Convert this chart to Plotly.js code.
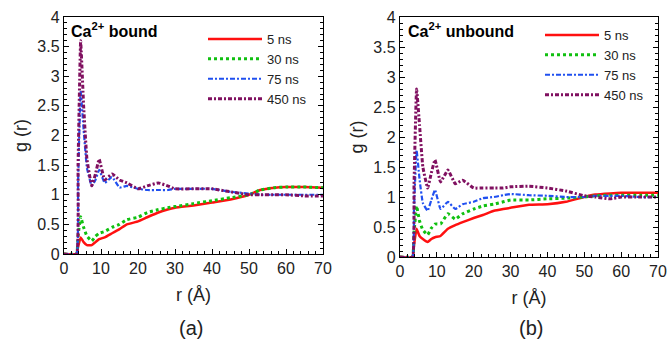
<!DOCTYPE html>
<html>
<head>
<meta charset="utf-8">
<script src="https://cdn.plot.ly/plotly-3.0.1.min.js"></script>
<style>html,body{margin:0;padding:0;background:#fff;}#chart{width:670px;height:342px;}</style>
</head>
<body>
<div id="chart"></div>
<script>
// shared radial distance grid (Å)
const r = [0, 3.4, 3.8, 4.5, 5.3, 6.2, 7.5, 8.5, 9.5, 11, 13, 15, 17, 20, 22.5, 25.5, 28, 30, 35, 40, 45, 50, 53, 57, 60, 65, 70];

// (a) Ca2+ bound
const boundG5   = [0,0,0.12,0.28,0.20,0.15,0.15,0.20,0.25,0.28,0.35,0.42,0.50,0.55,0.62,0.70,0.75,0.78,0.82,0.87,0.92,1.00,1.08,1.12,1.13,1.13,1.12];
const boundG30  = [0,0,0.30,0.63,0.45,0.30,0.22,0.30,0.35,0.38,0.45,0.50,0.58,0.62,0.70,0.75,0.78,0.80,0.85,0.90,0.95,1.00,1.08,1.12,1.13,1.13,1.12];
const boundG75  = [0,0,1.20,2.75,2.10,1.45,1.15,1.25,1.42,1.20,1.30,1.12,1.15,1.10,1.08,1.08,1.08,1.10,1.10,1.10,1.05,1.02,1.00,1.00,1.00,1.00,1.00];
const boundG450 = [0,0,1.50,3.60,2.50,1.60,1.15,1.35,1.60,1.25,1.35,1.25,1.20,1.10,1.15,1.20,1.15,1.10,1.10,1.10,1.05,1.00,1.00,1.00,1.00,0.98,0.98];

// (b) Ca2+ unbound
const unboundG5   = [0,0,0.20,0.47,0.35,0.30,0.25,0.30,0.33,0.35,0.47,0.53,0.58,0.65,0.70,0.77,0.80,0.82,0.87,0.88,0.92,1.00,1.04,1.06,1.07,1.07,1.07];
const unboundG30  = [0,0,0.40,0.85,0.60,0.45,0.37,0.48,0.55,0.55,0.72,0.63,0.72,0.80,0.85,0.88,0.92,0.95,0.95,0.97,0.98,1.00,1.02,1.03,1.03,1.03,1.03];
const unboundG75  = [0,0,0.80,1.78,1.30,0.90,0.77,0.95,1.12,0.80,0.92,0.80,0.88,0.92,0.98,1.00,1.03,1.05,1.03,1.02,1.00,1.00,1.02,1.02,1.02,1.00,1.00];
const unboundG450 = [0,0,1.20,2.80,2.20,1.50,1.15,1.40,1.62,1.25,1.45,1.22,1.28,1.15,1.15,1.15,1.15,1.17,1.18,1.15,1.10,1.02,1.00,0.97,1.00,1.00,1.00];

const seriesNames = ['5 ns', '30 ns', '75 ns', '450 ns'];
const panelTitles = ['Ca<sup>2+</sup> bound', 'Ca<sup>2+</sup> unbound'];
const panelLabels = ['(a)', '(b)'];
const yTickVals = [0, 0.5, 1, 1.5, 2, 2.5, 3, 3.5, 4];
const yTickText = ['0', '0.5', '1', '1.5', '2', '2.5', '3', '3.5', '4'];
const xTickVals = [0, 10, 20, 30, 40, 50, 60, 70];

const styles = [
  {color: '#ff1010', width: 2.5, dash: 'solid'},
  {color: '#10c010', width: 3, dash: '3px,3px'},
  {color: '#2050f0', width: 2.2, dash: '5px,2px,2px,2px'},
  {color: '#801060', width: 3, dash: '4px,2px,2px,2px'}
];

const FONT = 'Arial, "Liberation Sans", sans-serif';
const panels = [
  {data: [boundG5, boundG30, boundG75, boundG450], xa: 'x', ya: 'y', legend: 'legend'},
  {data: [unboundG5, unboundG30, unboundG75, unboundG450], xa: 'x2', ya: 'y2', legend: 'legend2'}
];

const traces = [];
panels.forEach(p => {
  p.data.forEach((g, i) => {
    traces.push({
      x: r, y: g, xaxis: p.xa, yaxis: p.ya, legend: p.legend,
      type: 'scatter', mode: 'lines', name: seriesNames[i],
      line: {color: styles[i].color, width: styles[i].width, dash: styles[i].dash, shape: 'spline', smoothing: 0.3}
    });
  });
});

function xAxis(domain, anchor) {
  return {
    domain: domain, anchor: anchor, range: [0, 70], tickvals: xTickVals,
    showgrid: false, zeroline: false, showline: true, linecolor: '#000', linewidth: 1.2, mirror: true,
    ticks: 'inside', ticklen: 5, tickcolor: '#000', tickwidth: 1,
    minor: {dtick: 2, ticks: 'inside', ticklen: 3, tickcolor: '#000', showgrid: false},
    tickfont: {family: FONT, size: 16, color: '#222'}, ticklabeloverflow: 'allow',
    title: {text: 'r (Å)', font: {family: FONT, size: 18, color: '#222'}, standoff: 12}
  };
}
function yAxis(domain, anchor) {
  return {
    domain: domain, anchor: anchor, range: [0, 4], tickvals: yTickVals, ticktext: yTickText,
    showgrid: false, zeroline: false, showline: true, linecolor: '#000', linewidth: 1.2, mirror: 'ticks',
    ticks: 'inside', ticklen: 5, tickcolor: '#000', tickwidth: 1,
    minor: {dtick: 0.1, ticks: 'inside', ticklen: 3, tickcolor: '#000', showgrid: false},
    tickfont: {family: FONT, size: 16, color: '#222'},
    title: {text: 'g (r)', font: {family: FONT, size: 18, color: '#222'}, standoff: 5}
  };
}

const legendBase = {
  orientation: 'v', bgcolor: 'rgba(0,0,0,0)', borderwidth: 0,
  font: {family: FONT, size: 13, color: '#222'}, itemwidth: 54, tracegroupgap: 0,
  xanchor: 'left', yanchor: 'top'
};

const layout = {
  width: 670, height: 342,
  margin: {l: 0, r: 0, t: 0, b: 0},
  paper_bgcolor: '#fff', plot_bgcolor: '#fff',
  showlegend: true,
  xaxis: xAxis([64/670, 323/670], 'y'),
  yaxis: yAxis([88/342, 325/342], 'x'),
  xaxis2: xAxis([400/670, 658/670], 'y2'),
  yaxis2: yAxis([85/342, 325/342], 'x2'),
  legend: Object.assign({}, legendBase, {x: 203/670, y: 1 - 24/342}),
  legend2: Object.assign({}, legendBase, {x: 540/670, y: 1 - 20/342}),
  annotations: [
    {text: panelTitles[0], xref: 'paper', yref: 'paper', x: 69/670, y: 1 - 30/342, xanchor: 'left', yanchor: 'middle', showarrow: false,
     font: {family: FONT, size: 16, color: '#000', weight: 'bold'}},
    {text: panelTitles[1], xref: 'paper', yref: 'paper', x: 406/670, y: 1 - 30/342, xanchor: 'left', yanchor: 'middle', showarrow: false,
     font: {family: FONT, size: 16, color: '#000', weight: 'bold'}},
    {text: panelLabels[0], xref: 'paper', yref: 'paper', x: 191/670, y: 1 - 328/342, xanchor: 'center', yanchor: 'middle', showarrow: false,
     font: {family: FONT, size: 20, color: '#222'}},
    {text: panelLabels[1], xref: 'paper', yref: 'paper', x: 531/670, y: 1 - 328/342, xanchor: 'center', yanchor: 'middle', showarrow: false,
     font: {family: FONT, size: 20, color: '#222'}}
  ]
};

Plotly.newPlot('chart', traces, layout, {staticPlot: true, displayModeBar: false});
</script>
</body>
</html>
